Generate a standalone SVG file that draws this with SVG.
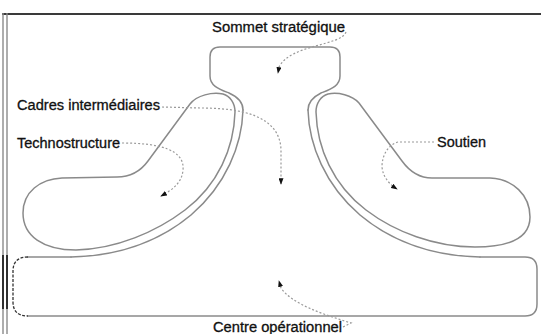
<svg xmlns="http://www.w3.org/2000/svg" width="541" height="334" viewBox="0 0 541 334">
<style>
.bg{fill:#ffffff}
.edge{fill:none;stroke:#8a8a8a;stroke-width:1.5;stroke-linejoin:round;stroke-linecap:round}
.edge-dark{fill:none;stroke:#333;stroke-width:1.3;stroke-dasharray:3 1.5}
.frame-top{stroke:#3a3a3a;stroke-width:2}
.frame-side{stroke:#8a8a8a;stroke-width:1.4}
.frame-black{stroke:#111;stroke-width:1.6}
.lbl{font-family:"Liberation Sans Narrow","Liberation Sans",Arial,sans-serif;font-size:14px;fill:#111;stroke:#111;stroke-width:0.3}
.conn{fill:none;stroke:#9a9a9a;stroke-width:1.2;stroke-dasharray:2 2}
</style>
<defs>
<marker id="ah" viewBox="0 0 8 6" refX="7" refY="3" markerWidth="7" markerHeight="5" markerUnits="userSpaceOnUse" orient="auto">
<path d="M0,0 L8,3 L0,6 Z" fill="#111"/>
</marker>
</defs>
<rect class="bg" x="0" y="0" width="541" height="334"/>
<g id="frame">
<line class="frame-top" x1="2" y1="14" x2="541" y2="14"/>
<line class="frame-side" x1="3" y1="13" x2="3" y2="334"/>
<line class="frame-side" x1="7" y1="13" x2="7" y2="334"/>
<line class="frame-black" x1="3" y1="255" x2="3" y2="309"/>
<line class="frame-black" x1="7" y1="255" x2="7" y2="309"/>
</g>
<g id="strategic-apex">
<path class="edge" d="M243,110 C243,102 238,97 229,93 C219,89 210,86 210,76 L210,57 Q210,47 220,47 L330,47 Q340,47 340,57 L340,76 C340,86 331,89 321,93 C313,97 308,102 308,110"/>
<text class="lbl" x="212" y="32" textLength="133" lengthAdjust="spacingAndGlyphs">Sommet stratégique</text>
</g>
<g id="middle-line">
<path class="edge" d="M243,110 C242,145 226,185 191,215 C161,240 121,256 71,257"/>
<path class="edge" d="M308,110 C309,145 325,185 360,215 C390,240 430,256 480,257"/>
<text class="lbl" x="17" y="110" textLength="143" lengthAdjust="spacingAndGlyphs">Cadres intermédiaires</text>
</g>
<g id="technostructure">
<path class="edge" d="M235,112 C234,148 218,185 185,210 C156,232 116,249 76,250 C43,250 23,236 23,213 C23,192 40,179 62,178 L117,177 C130,177 140,172 148,161 L190,104 C197,95 212,92 223,94 C230,96 235,103 235,112 Z"/>
<text class="lbl" x="17" y="148" textLength="103" lengthAdjust="spacingAndGlyphs">Technostructure</text>
</g>
<g id="support">
<path class="edge" d="M316,112 C317,148 333,185 366,210 C395,232 435,247 475,247 C510,247 530,238 530,217 C530,195 513,179 490,178 L432,178 C419,178 410,172 402,161 L359,103 C352,95 338,92 328,94 C321,96 316,103 316,112 Z"/>
<text class="lbl" x="437" y="147" textLength="49" lengthAdjust="spacingAndGlyphs">Soutien</text>
</g>
<g id="operating-core">
<path class="edge" d="M71,257 L28,257 M480,257 L525,257 Q537,257 537,269 L537,304 Q537,316 525,316 L28,316"/>
<path class="edge-dark" d="M28,257 Q13,257 13,271 L13,302 Q13,316 28,316"/>
<text class="lbl" x="213" y="332" textLength="129" lengthAdjust="spacingAndGlyphs">Centre opérationnel</text>
</g>
<g id="connectors">
<path class="conn" marker-end="url(#ah)" d="M346,32 C341,46 291,44 279,67 L278,73"/>
<path class="conn" marker-end="url(#ah)" d="M162,107 L200,108 C240,108 280,115 281,150 L281,184"/>
<path class="conn" marker-end="url(#ah)" d="M122,143 C160,143 185,150 183,170 C182,182 174,189 161,196"/>
<path class="conn" marker-end="url(#ah)" d="M434,142 L398,142 C388,145 382,155 382,167 C383,177 389,184 397,189"/>
<path class="conn" marker-end="url(#ah)" d="M343,327 L351,323 C322,314 292,304 281,288 L279,281"/>
</g>
</svg>
